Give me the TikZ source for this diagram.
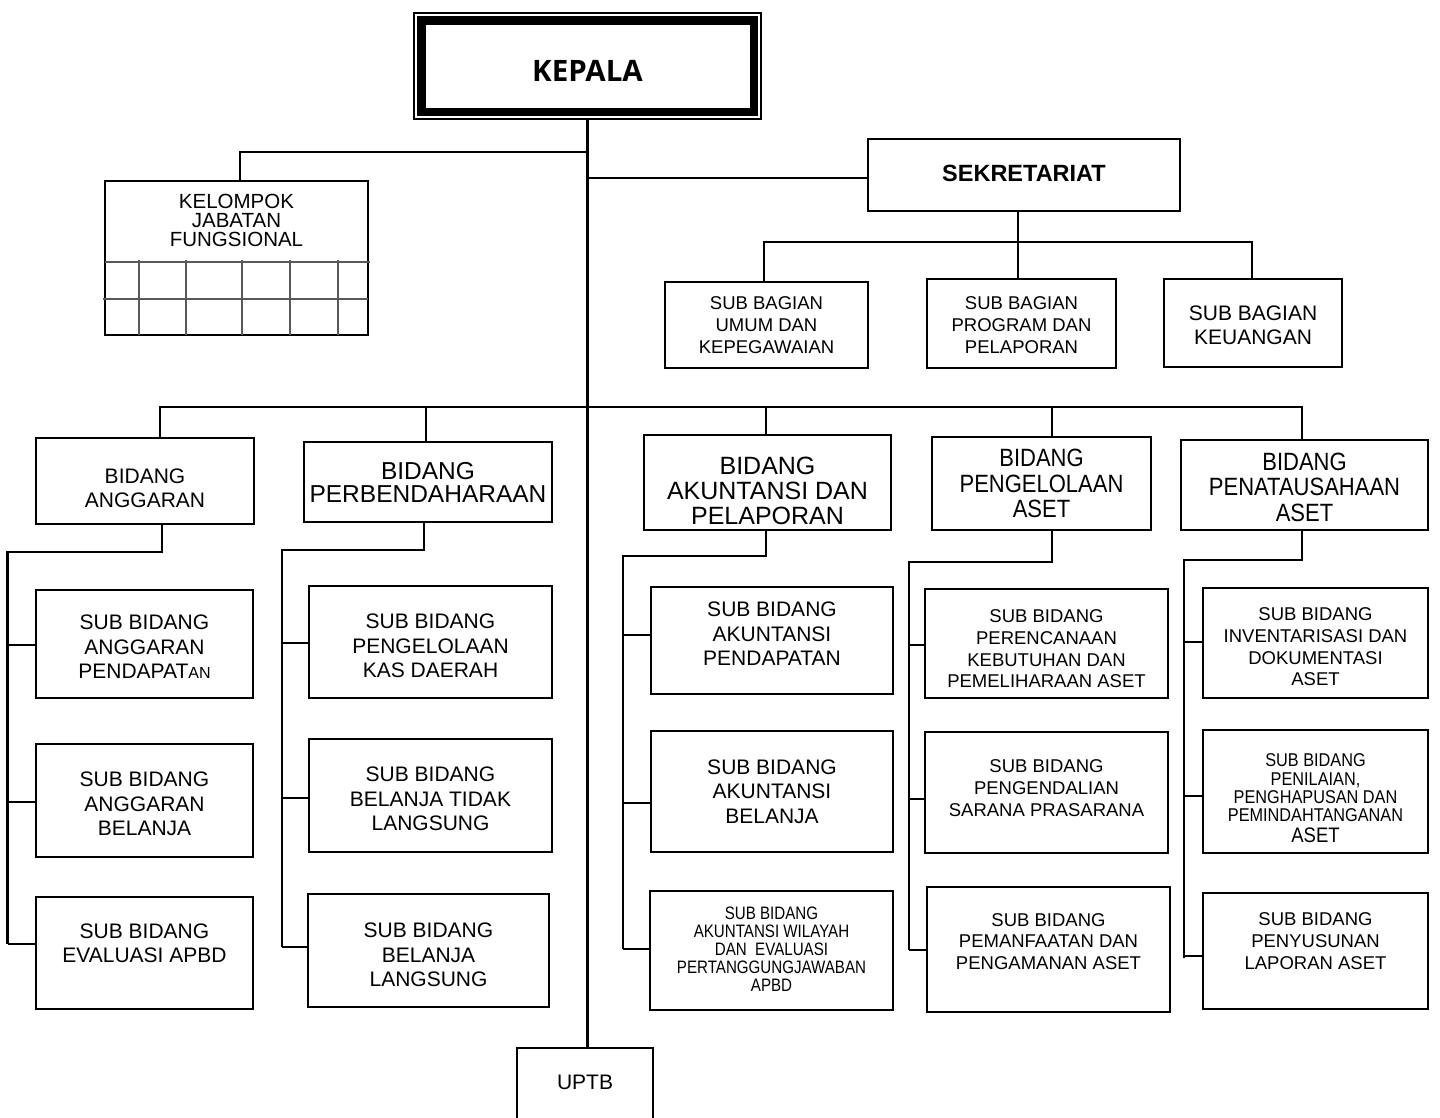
\documentclass[tikz,border=0pt]{standalone}
\usepackage{fontspec}
\setmainfont{Liberation Sans}
\newfontfamily\condA{Liberation Sans}[FakeStretch=0.88]
\newfontfamily\condB{Liberation Sans}[FakeStretch=0.84]
\newfontfamily\headfont{Open Sans}
\usetikzlibrary{fit}
\tikzset{
  box/.style={draw, line width=2.1pt, inner sep=0pt, outer sep=0pt},
  conn/.style={line width=2.2pt},
  gridline/.style={line width=1.4pt, draw=black!65},
  fa/.style={font=\fontsize{21}{24.5}\selectfont},
  fb/.style={font=\fontsize{18.5}{21.7}\selectfont},
  fk/.style={font=\fontsize{20.5}{19}\selectfont},
  fbid/.style={font=\fontsize{24.5}{23}\selectfont},
  fbidc/.style={font=\fontsize{25}{25}\selectfont},
  fbidn/.style={font=\condA\fontsize{25}{25.5}\selectfont},
  fsmall/.style={font=\condB\fontsize{18}{18}\selectfont},
  fpen/.style={font=\condA\fontsize{18.5}{18.3}\selectfont},
}
\begin{document}
\begin{tikzpicture}[x=1pt,y=-1pt,every label/.style={align=center,inner sep=0pt}]
\useasboundingbox (0,0) rectangle (1440,1117);
\clip (0,0) rectangle (1440,1117);

% KEPALA
\node[box, line width=1.5pt, fit={(414,13) (761,119)},
  label={[font=\headfont\bfseries\fontsize{29.5}{30}\selectfont, yshift=-4.5pt]center:KEPALA}] (kepala) {};
\draw[line width=8.5pt] ([shift={(7.25,7.25)}]kepala.north west) rectangle ([shift={(-7.25,-7.25)}]kepala.south east);

% Kelompok jabatan fungsional
\node[box, fit={(105,181) (368,335)},
  label={[fk, yshift=38pt]center:{KELOMPOK\\JABATAN\\FUNGSIONAL}}] (kjf) {};
\draw[gridline] (105,262) -- (370,262);
\draw[gridline] (103,299) -- (368,299);
\foreach \gx in {139,186,242,290,338} \draw[gridline] (\gx,260) -- (\gx,335);

% Sekretariat
\node[box, fit={(868,139) (1180,211)},
  label={[font=\bfseries\fontsize{23.5}{25}\selectfont, yshift=2pt]center:SEKRETARIAT}] (sek) {};
\node[box, fit={(665,282) (868,368)},
  label={[fb]center:{SUB BAGIAN\\UMUM DAN\\KEPEGAWAIAN}}] (sb1) {};
\node[box, fit={(927,279) (1116,368)},
  label={[fb, yshift=-1.5pt]center:{SUB BAGIAN\\PROGRAM DAN\\PELAPORAN}}] (sb2) {};
\node[box, fit={(1164,279) (1342,367)},
  label={[fa, yshift=-2.5pt]center:{SUB BAGIAN\\KEUANGAN}}] (sb3) {};

% Bidang
\node[box, fit={(36,438) (254,524)},
  label={[fa, yshift=-7.5pt]center:{BIDANG\\ANGGARAN}}] (b1) {};
\node[box, fit={(304,442) (552,522)},
  label={[fbid]center:{BIDANG\\PERBENDAHARAAN}}] (b2) {};
\node[box, fit={(644,435) (891,530)},
  label={[fbidc, yshift=-8.5pt]center:{BIDANG\\AKUNTANSI DAN\\PELAPORAN}}] (b3) {};
\node[box, fit={(932,437) (1151,530)},
  label={[fbidn]center:{BIDANG\\PENGELOLAAN\\ASET}}] (b4) {};
\node[box, fit={(1181,440) (1428,530)},
  label={[fbidn, yshift=-2pt]center:{BIDANG\\PENATAUSAHAAN\\ASET}}] (b5) {};

% Column 1
\node[box, fit={(36,590) (253,698)},
  label={[fa, yshift=-3pt]center:{SUB BIDANG\\ANGGARAN\\PENDAPAT{\fontsize{16}{16}\selectfont AN}}}] (c1a) {};
\node[box, fit={(36,744) (253,857)},
  label={[fa, yshift=-3.5pt]center:{SUB BIDANG\\ANGGARAN\\BELANJA}}] (c1b) {};
\node[box, fit={(36,897) (253,1009)},
  label={[fa, yshift=9.5pt]center:{SUB BIDANG\\EVALUASI APBD}}] (c1c) {};
% Column 2
\node[box, fit={(309,586) (552,698)},
  label={[fa, yshift=-4pt]center:{SUB BIDANG\\PENGELOLAAN\\KAS DAERAH}}] (c2a) {};
\node[box, fit={(309,739) (552,852)},
  label={[fa, yshift=-3.5pt]center:{SUB BIDANG\\BELANJA TIDAK\\LANGSUNG}}] (c2b) {};
\node[box, fit={(308,894) (549,1007)},
  label={[fa, yshift=-4.5pt]center:{SUB BIDANG\\BELANJA\\LANGSUNG}}] (c2c) {};
% Column 3
\node[box, fit={(651,587) (893,694)},
  label={[fa, yshift=6.5pt]center:{SUB BIDANG\\AKUNTANSI\\PENDAPATAN}}] (c3a) {};
\node[box, fit={(651,731) (893,852)},
  label={[fa]center:{SUB BIDANG\\AKUNTANSI\\BELANJA}}] (c3b) {};
\node[box, fit={(650,891) (893,1010)},
  label={[fsmall, yshift=1.5pt]center:{SUB BIDANG\\AKUNTANSI WILAYAH\\DAN\ \ EVALUASI\\PERTANGGUNGJAWABAN\\APBD}}] (c3c) {};
% Column 4
\node[box, fit={(925,589) (1168,698)},
  label={[fb, yshift=-5.5pt]center:{SUB BIDANG\\PERENCANAAN\\KEBUTUHAN DAN\\PEMELIHARAAN ASET}}] (c4a) {};
\node[box, fit={(925,732) (1168,853)},
  label={[fb, yshift=4.5pt]center:{SUB BIDANG\\PENGENDALIAN\\SARANA PRASARANA}}] (c4b) {};
\node[box, fit={(927,887) (1170,1012)},
  label={[fb, yshift=8pt]center:{SUB BIDANG\\PEMANFAATAN DAN\\PENGAMANAN ASET}}] (c4c) {};
% Column 5
\node[box, fit={(1203,588) (1428,698)},
  label={[fb, yshift=-4pt]center:{SUB BIDANG\\INVENTARISASI DAN\\DOKUMENTASI\\ASET}}] (c5a) {};
\node[box, fit={(1203,730) (1428,853)},
  label={[fpen, yshift=-7pt]center:{SUB BIDANG\\PENILAIAN,\\PENGHAPUSAN DAN\\PEMINDAHTANGANAN\\[3pt]{\fontsize{21}{21}\selectfont ASET}}}] (c5b) {};
\node[box, fit={(1203,893) (1428,1009)},
  label={[fb, yshift=10pt]center:{SUB BIDANG\\PENYUSUNAN\\LAPORAN ASET}}] (c5c) {};

% UPTB
\node[box, fit={(517,1048) (653,1170)},
  label={[fa, yshift=27pt]center:UPTB}] (uptb) {};

% Connectors
\draw[conn] (kepala.south) -- (kepala.south |- uptb.north);
\draw[conn] (kepala.south |- 0,152) -| (240,0 |- kjf.north);
\draw[conn] (kepala.south |- 0,178) -- (sek.west |- 0,178);
\draw[conn] (1018,0 |- sek.south) -- (1018,0 |- sb2.north);
\draw[conn] (764,0 |- sb1.north) |- (1252,242) -- (1252,0 |- sb3.north);

\draw[conn] (160,0 |- b1.north) |- (1302,407) -- (1302,0 |- b5.north);
\draw[conn] (426,407) -- (426,0 |- b2.north);
\draw[conn] (766,407) -- (766,0 |- b3.north);
\draw[conn] (1052,407) -- (1052,0 |- b4.north);

\draw[conn] (162,0 |- b1.south) |- (7.5,552) -- (7.5,944);
\draw[conn] (7.5,645) -- (c1a.west |- 0,645);
\draw[conn] (7.5,802) -- (c1b.west |- 0,802);
\draw[conn] (7.5,944) -- (c1c.west |- 0,944);

\draw[conn] (424,0 |- b2.south) |- (282,550) -- (282,947);
\draw[conn] (282,643) -- (c2a.west |- 0,643);
\draw[conn] (282,798) -- (c2b.west |- 0,798);
\draw[conn] (282,947) -- (c2c.west |- 0,947);

\draw[conn] (766,0 |- b3.south) |- (623,556) -- (623,949);
\draw[conn] (623,635) -- (c3a.west |- 0,635);
\draw[conn] (623,803) -- (c3b.west |- 0,803);
\draw[conn] (623,949) -- (c3c.west |- 0,949);

\draw[conn] (1052,0 |- b4.south) |- (909,562) -- (909,950);
\draw[conn] (909,645) -- (c4a.west |- 0,645);
\draw[conn] (909,799) -- (c4b.west |- 0,799);
\draw[conn] (909,950) -- (c4c.west |- 0,950);

\draw[conn] (1302,0 |- b5.south) |- (1184,560) -- (1184,958);
\draw[conn] (1184,642) -- (c5a.west |- 0,642);
\draw[conn] (1184,796) -- (c5b.west |- 0,796);
\draw[conn] (1184,956) -- (c5c.west |- 0,956);
\end{tikzpicture}
\end{document}
